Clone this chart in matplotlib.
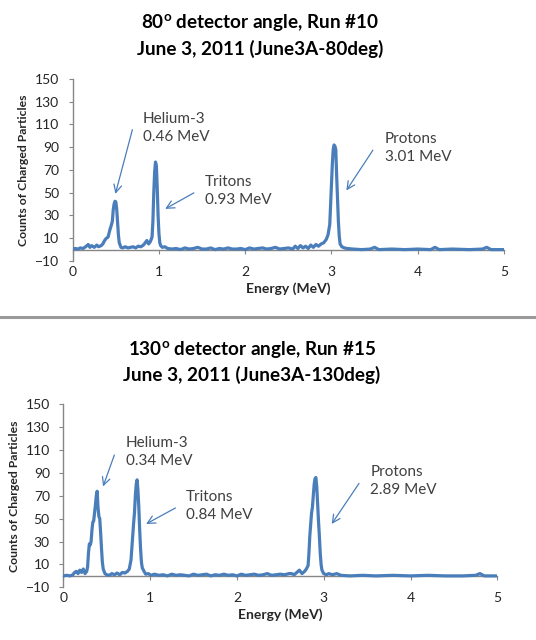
import matplotlib
matplotlib.use('Agg')
import matplotlib.pyplot as plt
from matplotlib.lines import Line2D

plt.rcParams['font.family'] = ['Lato', 'DejaVu Sans']
plt.rcParams['mathtext.fontset'] = 'custom'
plt.rcParams['mathtext.rm'] = 'Lato'
plt.rcParams['mathtext.bf'] = 'Lato:bold'

# ---- 80 deg spectrum (energy in MeV, counts) ----
e80 = [0.00, 0.03, 0.06, 0.09, 0.12, 0.15, 0.18, 0.20, 0.22, 0.25, 0.28, 0.30, 0.33, 0.35,
       0.37, 0.39, 0.41, 0.43, 0.45, 0.46, 0.47, 0.48, 0.49, 0.50, 0.51, 0.52, 0.53, 0.54,
       0.56, 0.58, 0.61, 0.64, 0.67, 0.70, 0.73, 0.76, 0.79, 0.82, 0.84, 0.86, 0.88, 0.90,
       0.92, 0.93, 0.94, 0.95, 0.96, 0.97, 0.98, 0.99, 1.00, 1.01, 1.02, 1.04, 1.07, 1.10,
       1.15, 1.20, 1.25, 1.30, 1.35, 1.40, 1.45, 1.50, 1.55, 1.60, 1.65, 1.70, 1.75, 1.80,
       1.85, 1.90, 1.95, 2.00, 2.05, 2.10, 2.15, 2.20, 2.25, 2.30, 2.35, 2.40, 2.45, 2.50,
       2.55, 2.58, 2.61, 2.64, 2.67, 2.70, 2.73, 2.76, 2.79, 2.82, 2.85, 2.88, 2.91, 2.94,
       2.96, 2.98, 2.99, 3.00, 3.01, 3.02, 3.03, 3.04, 3.05, 3.06, 3.07, 3.08, 3.09, 3.10,
       3.12, 3.15, 3.18, 3.25, 3.35, 3.45, 3.50, 3.55, 3.70, 3.85, 4.00, 4.15, 4.20, 4.25,
       4.40, 4.60, 4.75, 4.80, 4.85, 5.00]
c80 = [0.5, 1, 0.5, 1.5, 1, 2.5, 4.5, 2, 3.5, 2, 4, 2.5, 3.5, 5,
       8, 10, 11, 17, 22, 25, 35, 40, 42.5, 42, 36, 25, 13, 6,
       2, 1.5, 2.5, 1.5, 2, 2.5, 1.5, 3, 2.5, 4, 6, 8, 5, 7,
       11, 25, 50, 68, 77, 74, 55, 30, 14, 6, 3.5, 2, 2.5, 1,
       0.5, 1, 0, 1.5, 0.5, 1, 2, 0.5, 0.5, 1.5, 0, 1, 0.5, 1.5,
       0.5, 0.5, 1, 0, 1.5, 0.5, 1, 1.5, 0.5, 1, 2, 0.5, 1, 1.5,
       0.5, 3, 1, 3.5, 1.5, 3, 1, 4, 2, 4.5, 3, 5, 6, 9,
       13, 22, 40, 58, 75, 88, 92, 91, 88, 65, 46, 25, 12, 5,
       2.5, 1.5, 1, 0.5, 0, 0.5, 2, 0, 0.5, 0, 0.5, 0, 2, 0,
       0.5, 0, 0.5, 2, 0, 0]

# ---- 130 deg spectrum ----
e130 = [0.00, 0.04, 0.08, 0.11, 0.13, 0.15, 0.17, 0.19, 0.21, 0.23, 0.25, 0.27, 0.28, 0.29,
        0.30, 0.31, 0.32, 0.33, 0.34, 0.35, 0.36, 0.37, 0.38, 0.39, 0.40, 0.41, 0.42, 0.43,
        0.44, 0.45, 0.46, 0.48, 0.50, 0.53, 0.56, 0.59, 0.62, 0.65, 0.68, 0.71, 0.74, 0.76,
        0.78, 0.79, 0.80, 0.81, 0.82, 0.83, 0.84, 0.85, 0.86, 0.87, 0.88, 0.89, 0.90, 0.91,
        0.93, 0.95, 0.98, 1.01, 1.05, 1.10, 1.15, 1.20, 1.25, 1.30, 1.35, 1.40, 1.45, 1.50,
        1.55, 1.60, 1.65, 1.70, 1.75, 1.80, 1.85, 1.90, 1.95, 2.00, 2.05, 2.10, 2.15, 2.20,
        2.25, 2.30, 2.35, 2.40, 2.45, 2.50, 2.55, 2.60, 2.63, 2.66, 2.69, 2.72, 2.75, 2.78,
        2.80, 2.82, 2.83, 2.84, 2.85, 2.86, 2.87, 2.88, 2.89, 2.90, 2.91, 2.92, 2.93, 2.94,
        2.95, 2.96, 2.97, 2.98, 3.00, 3.03, 3.06, 3.10, 3.15, 3.20, 3.30, 3.45, 3.60, 3.80,
        4.00, 4.20, 4.40, 4.60, 4.75, 4.80, 4.85, 5.00]
c130 = [0, 0.5, 0, 1, 3, 4, 2, 5, 3, 6, 2, 4, 8, 20,
        28, 27, 30, 40, 47, 48, 55, 62, 70, 74, 60, 52, 50, 38,
        24, 12, 6, 2, 1, 0.5, 2, 1, 2.5, 1, 3, 2.5, 4, 6,
        14, 25, 35, 46, 55, 70, 80, 84, 75, 60, 40, 24, 12, 7,
        4, 1.5, 2, 0.5, 1.5, 0.5, 1, 0, 1.5, 0.5, 1, 0.5, 0, 1.5,
        0.5, 1, 1.5, 0, 1, 0.5, 1.5, 0.5, 1, 0, 1.5, 0.5, 1, 1.5,
        0.5, 1, 2, 0.5, 1, 1.5, 1, 2, 2, 1, 3, 5, 2, 4,
        6, 9, 20, 35, 45, 55, 60, 70, 80, 85, 86, 78, 63, 48,
        35, 20, 10, 5, 2, 1, 2, 1, 2, 0.5, 0, 0.5, 0, 0.5,
        0, 0.5, 0, 0, 0.5, 2, 0, 0]

yticks = list(range(-10, 151, 20))
xticks = [0, 1, 2, 3, 4, 5]

blue = '#4A7EBB'
gray_axis = '#868686'
text_gray = '#404040'

fig = plt.figure(figsize=(5.36, 6.4), dpi=100)

panels = [
    dict(rect=[0.1356, 0.5922, 0.8047, 0.2844], e=e80, c=c80,
         title1=r'80$^{\mathbf{o}}$ detector angle, Run #10',
         title2='June 3, 2011 (June3A-80deg)', ty1=1 - 23 / 640, ty2=1 - 49 / 640, tx=0.485,
         labels=[('Helium-3\n0.46 MeV', 0.81, 107, (0.692, 105.4), (0.495, 49)),
                 ('Tritons\n0.93 MeV', 1.53, 51.5, (1.405, 49.9), (1.072, 35.8)),
                 ('Protons\n3.01 MeV', 3.616, 89.5, (3.48, 87.4), (3.173, 52))]),
    dict(rect=[0.1181, 0.0823, 0.8097, 0.2859], e=e130, c=c130,
         title1=r'130$^{\mathbf{o}}$ detector angle, Run #15',
         title2='June 3, 2011 (June3A-130deg)', ty1=1 - 350 / 640, ty2=1 - 375 / 640, tx=0.470,
         labels=[('Helium-3\n0.34 MeV', 0.718, 108, (0.588, 105.7), (0.458, 78.2)),
                 ('Tritons\n0.84 MeV', 1.414, 61.2, (1.292, 59.4), (0.954, 45.4)),
                 ('Protons\n2.89 MeV', 3.537, 83, (3.407, 80.9), (3.092, 45.4))]),
]

for p in panels:
    ax = fig.add_axes(p['rect'])
    ax.plot(p['e'], p['c'], color=blue, lw=2.3, solid_joinstyle='round', zorder=3)
    ax.set_xlim(0, 5)
    ax.set_ylim(-10, 150)
    ax.set_xticks(xticks)
    ax.set_yticks(yticks)
    for s in ['top', 'right']:
        ax.spines[s].set_visible(False)
    ax.spines['bottom'].set_position(('data', 0))
    for s in ['left', 'bottom']:
        ax.spines[s].set_color(gray_axis)
        ax.spines[s].set_linewidth(1.0)
    ax.tick_params(axis='y', direction='out', length=3.2, width=0.8, color=gray_axis,
                   labelsize=10, labelcolor='#262626', pad=6.5)
    ax.tick_params(axis='x', direction='out', length=3.2, width=0.8, color=gray_axis,
                   labelsize=10, labelcolor='#262626', pad=8.5)
    ax.set_xlabel('Energy (MeV)', fontsize=10, fontweight='bold', color='#262626')
    ax.xaxis.set_label_coords(0.5, -0.115)
    ax.set_ylabel('Counts of Charged Particles', fontsize=8.8, fontweight='bold',
                  color='#262626', va='center')
    ax.yaxis.set_label_coords(-48.7 / 431, 0.5)

    for txt, tx, ty, tail, head in p['labels']:
        ax.text(tx, ty, txt, fontsize=11, color=text_gray, va='center', ha='left',
                linespacing=1.35)
        ax.annotate('', xy=head, xytext=tail,
                    arrowprops=dict(arrowstyle='->', color=blue, lw=0.9,
                                    mutation_scale=14, shrinkA=0, shrinkB=0))

    fig.text(p['tx'], p['ty1'], p['title1'], ha='center', va='center', fontsize=13.6,
             fontweight='bold', color='black')
    fig.text(p['tx'], p['ty2'], p['title2'], ha='center', va='center', fontsize=13.6,
             fontweight='bold', color='black')

# separator between the two charts
fig.add_artist(Line2D([0, 1], [1 - 317 / 640, 1 - 317 / 640], color='#9A9A9A', lw=2.2,
                      transform=fig.transFigure))

fig.savefig('out.png', dpi=100)
